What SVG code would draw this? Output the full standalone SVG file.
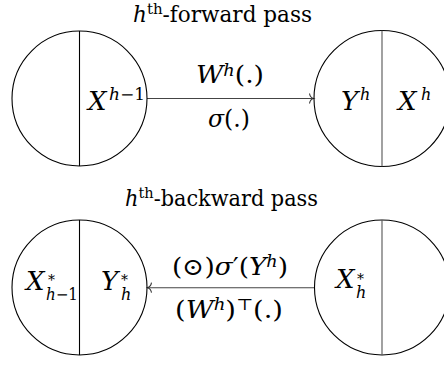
<svg xmlns="http://www.w3.org/2000/svg" width="444" height="367" viewBox="0 0 444 367">
<style>
text{font-family:'DejaVu Serif',serif;fill:#000}
.t{font-size:21.5px}
.m{font-size:24px;font-style:italic}
.n{font-size:26px;font-style:italic}
.r{font-style:normal}
.c{fill:none;stroke:#000;stroke-width:1.1}
.v{stroke:#000;stroke-width:1.1}
.g{stroke:#555;stroke-width:1.1}
.e{stroke:#444;stroke-width:1.1;fill:none}
</style>
<defs>
<marker id="to" viewBox="-6 -6 8 12" markerWidth="8" markerHeight="12" refX="0" refY="0" orient="auto" markerUnits="userSpaceOnUse">
<path d="M-4,-5 C-3.5,-2 -1.5,-0.4 0,0 C-1.5,0.4 -3.5,2 -4,5" fill="none" stroke="#333" stroke-width="1.1"/>
</marker>
</defs>
<text class="t" x="133" y="22" textLength="179" lengthAdjust="spacingAndGlyphs"><tspan font-style="italic">h</tspan><tspan dy="-8" font-size="15">th</tspan><tspan dy="8">-forward pass</tspan></text>
<text class="t" x="125" y="206" textLength="193" lengthAdjust="spacingAndGlyphs"><tspan font-style="italic">h</tspan><tspan dy="-8" font-size="15">th</tspan><tspan dy="8">-backward pass</tspan></text>
<g id="connectors">
<line class="e" x1="147" y1="98.5" x2="313.5" y2="98.5" marker-end="url(#to)"/>
<line class="e" x1="314.5" y1="287.7" x2="147.5" y2="287.7" marker-end="url(#to)"/>
<text class="m" x="196" y="83" textLength="68" lengthAdjust="spacingAndGlyphs">W<tspan dy="-7" font-size="16">h</tspan><tspan dy="7" class="r">(.)</tspan></text>
<text class="m" x="208" y="127" textLength="42" lengthAdjust="spacingAndGlyphs">σ<tspan class="r">(.)</tspan></text>
<text class="m" x="172" y="275" textLength="116" lengthAdjust="spacingAndGlyphs"><tspan class="r">(⊙)</tspan>σ<tspan class="r">′(</tspan>Y<tspan dy="-8" font-size="16">h</tspan><tspan dy="8" class="r">)</tspan></text>
<text class="m" x="175" y="318" textLength="108" lengthAdjust="spacingAndGlyphs"><tspan class="r">(</tspan>W<tspan dy="-8" font-size="16">h</tspan><tspan dy="8" class="r">)</tspan><tspan dy="-8" font-size="16" class="r">⊤</tspan><tspan dy="8" class="r">(.)</tspan></text>
</g>
<g id="node-fwd-left">
<circle class="c" cx="79.5" cy="98.5" r="67.5"/>
<line class="v" x1="79.5" y1="31" x2="79.5" y2="166"/>
<text class="n" x="88" y="110">X<tspan x="109" y="100" font-size="16" textLength="36" lengthAdjust="spacingAndGlyphs">h<tspan class="r">−1</tspan></tspan></text>
</g>
<g id="node-fwd-right">
<circle class="c" cx="382" cy="98.5" r="68"/>
<line class="g" x1="382" y1="30.5" x2="382" y2="166.5"/>
<text class="n" x="341" y="110">Y<tspan x="360" y="100" font-size="16">h</tspan></text>
<text class="n" x="398" y="110">X<tspan x="421" y="100" font-size="16">h</tspan></text>
</g>
<g id="node-bwd-left">
<circle class="c" cx="79.5" cy="287.5" r="67.5"/>
<line class="v" x1="79.5" y1="220" x2="79.5" y2="355"/>
<text class="n" x="26" y="290">X<tspan x="48" y="285" font-size="14" class="r">*</tspan><tspan x="46" y="300" font-size="16" textLength="32" lengthAdjust="spacingAndGlyphs">h<tspan class="r">−1</tspan></tspan></text>
<text class="n" x="101" y="290">Y<tspan x="121" y="285" font-size="14" class="r">*</tspan><tspan x="121" y="300" font-size="16">h</tspan></text>
</g>
<g id="node-bwd-right">
<circle class="c" cx="382" cy="287.5" r="67.5"/>
<line class="g" x1="382" y1="220" x2="382" y2="355"/>
<text class="n" x="336" y="288">X<tspan x="357" y="284" font-size="14" class="r">*</tspan><tspan x="356" y="298" font-size="16">h</tspan></text>
</g>
</svg>
